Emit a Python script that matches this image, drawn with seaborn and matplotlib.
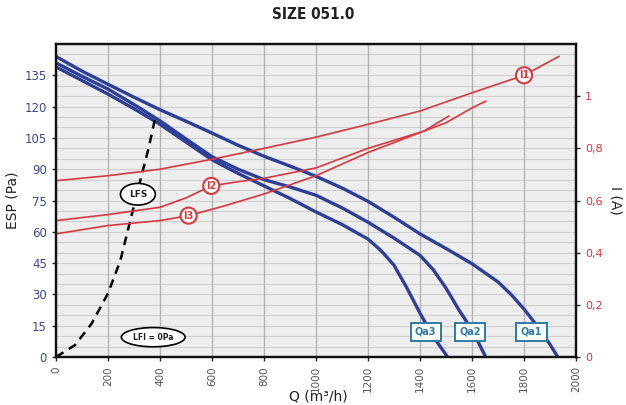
import numpy as np
import pandas as pd
import matplotlib
matplotlib.use("Agg")
import matplotlib.pyplot as plt
from matplotlib.ticker import FixedLocator, FuncFormatter
import seaborn as sns

# ---- data ----
q_qa1 = [0, 100, 200, 300, 400, 500, 600, 700, 800, 900, 1000, 1100, 1200, 1300,
         1400, 1500, 1600, 1700, 1750, 1800, 1850, 1900, 1930]
esp_qa1 = [144, 137, 130.7, 124.5, 118.5, 113, 107.3, 101.5, 96.2, 91.5, 86.6, 81,
           74.6, 67, 59, 52, 44.7, 36, 30, 23, 15, 6, 0]
q_qa2 = [0, 100, 200, 300, 400, 500, 600, 700, 800, 900, 1000, 1100, 1200, 1300,
         1400, 1450, 1500, 1550, 1600, 1653]
esp_qa2 = [141, 134.5, 128.4, 121, 113.2, 104.5, 96, 90, 85, 81.5, 77.5, 71.5, 64.6,
           57, 48.7, 42, 33, 22.5, 13, 0]
q_qa3 = [0, 100, 200, 300, 400, 500, 600, 700, 800, 900, 1000, 1100, 1200, 1250,
         1300, 1350, 1400, 1450, 1506]
esp_qa3 = [139, 132.5, 126, 119, 111.5, 103, 94.5, 88, 82, 76, 69.5, 63.5, 56.5, 51,
           44, 33, 21, 10, 0]

q_i1 = [0, 200, 400, 600, 800, 1000, 1200, 1400, 1600, 1800, 1935]
cur_i1 = [0.676, 0.695, 0.72, 0.758, 0.80, 0.843, 0.892, 0.943, 1.013, 1.08, 1.153]
q_i2 = [0, 200, 400, 500, 597, 700, 800, 1000, 1200, 1415, 1500, 1600, 1653]
cur_i2 = [0.523, 0.546, 0.574, 0.61, 0.656, 0.672, 0.685, 0.725, 0.80, 0.866, 0.898,
          0.955, 0.981]
q_i3 = [0, 200, 400, 510, 650, 800, 1000, 1200, 1415, 1511]
cur_i3 = [0.472, 0.504, 0.523, 0.542, 0.58, 0.625, 0.695, 0.784, 0.866, 0.924]

q_lfs = [0, 73, 137, 200, 247, 285, 324, 356, 382]
esp_lfs = [0, 5.7, 16, 30.5, 46, 65, 84.5, 100, 114.8]

x_ticks = [0, 200, 400, 600, 800, 1000, 1200, 1400, 1600, 1800, 2000]
esp_ticks = [0, 15, 30, 45, 60, 75, 90, 105, 120, 135]
cur_ticks = [0, 0.2, 0.4, 0.6, 0.8, 1.0]

qa_labels = ["Qa1", "Qa2", "Qa3"]
qa_label_q = [1829, 1593, 1422]
i_labels = ["I1", "I2", "I3"]
i_label_q = [1800, 597, 510]
i_label_cur = [1.08, 0.656, 0.542]

# ---- frames ----
fan = pd.concat([
    pd.DataFrame({"Q": q_qa1, "ESP": esp_qa1, "curve": "Qa1"}),
    pd.DataFrame({"Q": q_qa2, "ESP": esp_qa2, "curve": "Qa2"}),
    pd.DataFrame({"Q": q_qa3, "ESP": esp_qa3, "curve": "Qa3"}),
])
cur = pd.concat([
    pd.DataFrame({"Q": q_i1, "I": cur_i1, "curve": "I1"}),
    pd.DataFrame({"Q": q_i2, "I": cur_i2, "curve": "I2"}),
    pd.DataFrame({"Q": q_i3, "I": cur_i3, "curve": "I3"}),
])
lfs = pd.DataFrame({"Q": q_lfs, "ESP": esp_lfs})

sns.set_style("white")
plt.rcParams['font.family'] = ['DejaVu Sans']

BLUE = "#2d3f97"
RED = "#d8383f"
TEAL = "#2e7aa6"

fig = plt.figure(figsize=(6.26, 4.05), dpi=100)
ax = fig.add_axes([56/626, 1-357/405, 520/626, 313/405])
ax.set_facecolor("#eeeeee")

# grid
for y in np.arange(5, 150, 5):
    ax.axhline(y, color="#cfcfcf", lw=0.8, zorder=0)
for x in x_ticks[1:-1]:
    ax.axvline(x, color="#b4b4b4", lw=1.0, zorder=0)

ax2 = ax.twinx()

sns.lineplot(data=cur, x="Q", y="I", units="curve", estimator=None, sort=False,
             color=RED, lw=1.2, ax=ax2, legend=False)
sns.lineplot(data=fan, x="Q", y="ESP", units="curve", estimator=None, sort=False,
             color=BLUE, lw=2.4, ax=ax, legend=False, zorder=3)
sns.lineplot(data=lfs, x="Q", y="ESP", estimator=None, sort=False,
             color="black", lw=1.8, ax=ax, legend=False, zorder=4)
ax.lines[-1].set_dashes((3.5, 2.5))

ax2.set_zorder(ax.get_zorder() + 1)
ax2.patch.set_visible(False)

ax.set_xlim(0, 2000)
ax.set_ylim(0, 150)
ax2.set_ylim(0, 1.2)

ax.xaxis.set_major_locator(FixedLocator(x_ticks))
ax.yaxis.set_major_locator(FixedLocator(esp_ticks))
ax2.yaxis.set_major_locator(FixedLocator(cur_ticks))
ax2.yaxis.set_major_formatter(FuncFormatter(
    lambda v, p: "0" if v == 0 else ("1" if abs(v-1) < 1e-9 else f"{v:.1f}".replace(".", ","))))

ax.tick_params(axis="x", labelrotation=90, labelsize=7.5, labelcolor="#555555",
               length=3, width=1, direction="out", bottom=True)
ax.tick_params(axis="y", labelsize=8.5, labelcolor="#3a4a8e", length=3, width=1,
               direction="out", left=True)
ax2.tick_params(axis="y", labelsize=8, labelcolor=RED, length=3, width=1,
                direction="out", right=True)

for a in (ax, ax2):
    for s in a.spines.values():
        s.set_color("#111111")
        s.set_linewidth(1.6)

ax.set_xlabel("")
ax.set_ylabel("ESP (Pa)", fontsize=10, color="#222222", labelpad=4)
ax2.set_ylabel("I (A)", fontsize=10, color="#222222", rotation=270, labelpad=14)

# annotation labels
for lab, qx in zip(qa_labels, qa_label_q):
    ax.text(qx, 12, lab, ha="center", va="center", fontsize=7, color=TEAL,
            fontweight="bold", zorder=6,
            bbox=dict(boxstyle="square,pad=0.45", fc="white", ec=TEAL, lw=1.4))
for lab, qx, iy in zip(i_labels, i_label_q, i_label_cur):
    ax2.text(qx, iy, lab, ha="center", va="center", fontsize=7, color=RED,
             fontweight="bold", zorder=6,
             bbox=dict(boxstyle="circle,pad=0.3", fc="white", ec=RED, lw=1.5))
ax.text(315, 78, "LFS", ha="center", va="center", fontsize=6.5, fontweight="bold",
        color="#222222", zorder=6,
        bbox=dict(boxstyle="ellipse,pad=0.35", fc="white", ec="black", lw=1.2))
ax.text(374, 9.5, "LFI = 0Pa", ha="center", va="center", fontsize=5.5, fontweight="bold",
        color="#222222", zorder=6,
        bbox=dict(boxstyle="ellipse,pad=0.3", fc="white", ec="black", lw=1.2))

fig.text(0.5, 0.965, "SIZE 051.0", ha="center", va="center", fontsize=11,
         fontweight="bold", fontstretch="condensed", color="#222222")
fig.text(0.508, 0.003, "Q (m\u00b3/h)", ha="center", va="bottom", fontsize=10,
         color="#222222")

fig.savefig("out.png", dpi=100)
